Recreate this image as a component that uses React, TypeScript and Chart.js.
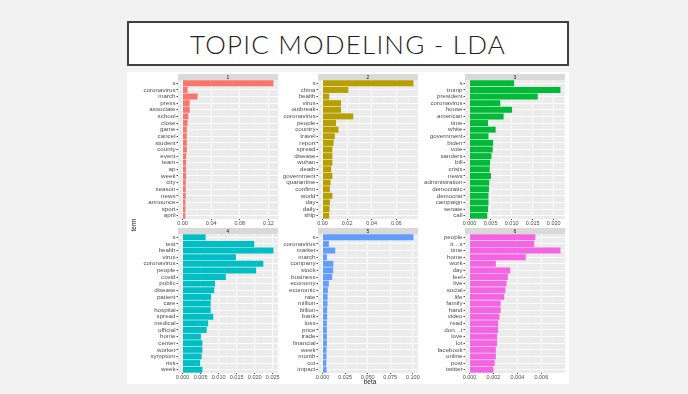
import React, { useEffect, useRef } from "react";
import { Chart, registerables } from "chart.js";

Chart.register(...registerables);

// ---------- data ----------
const topicLabels = ["1", "2", "3", "4", "5", "6"];
const topicColors = ["#F8766D", "#B79F00", "#00BA38", "#00BFC4", "#619CFF", "#F564E3"];

const topic1Terms = ["s", "coronavirus", "march", "press", "associate", "school", "close", "game", "cancel", "student", "county", "event", "team", "ap", "week", "city", "season", "news", "announce", "sport", "april"];
const topic1Beta = [0.127, 0.007, 0.021, 0.010, 0.010, 0.008, 0.007, 0.006, 0.006, 0.006, 0.006, 0.005, 0.005, 0.005, 0.005, 0.0045, 0.0045, 0.0045, 0.004, 0.004, 0.004];
const topic1Ticks = [0, 0.04, 0.08, 0.12];

const topic2Terms = ["s", "china", "health", "virus", "outbreak", "coronavirus", "people", "country", "travel", "report", "spread", "disease", "wuhan", "death", "government", "quarantine", "confirm", "world", "day", "daily", "ship"];
const topic2Beta = [0.074, 0.021, 0.0054, 0.015, 0.015, 0.025, 0.011, 0.013, 0.010, 0.009, 0.008, 0.008, 0.008, 0.007, 0.008, 0.0065, 0.006, 0.008, 0.006, 0.0057, 0.0054];
const topic2Ticks = [0, 0.02, 0.04, 0.06];

const topic3Terms = ["s", "trump", "president", "coronavirus", "house", "american", "time", "white", "government", "biden", "vote", "sanders", "bill", "crisis", "news", "administration", "democratic", "democrat", "campaign", "senate", "call"];
const topic3Beta = [0.0106, 0.0216, 0.0162, 0.0073, 0.0101, 0.0081, 0.0044, 0.0062, 0.0045, 0.0056, 0.0055, 0.0052, 0.0049, 0.0048, 0.0051, 0.0047, 0.0046, 0.0045, 0.0045, 0.0044, 0.0042];
const topic3Ticks = [0, 0.005, 0.01, 0.015, 0.02];

const topic4Terms = ["s", "test", "health", "virus", "coronavirus", "people", "covid", "public", "disease", "patient", "care", "hospital", "spread", "medical", "official", "home", "center", "worker", "symptom", "risk", "week"];
const topic4Beta = [0.0064, 0.0199, 0.0252, 0.0148, 0.0224, 0.0204, 0.012, 0.009, 0.0088, 0.0079, 0.0078, 0.0078, 0.0085, 0.0071, 0.0067, 0.0051, 0.0055, 0.0055, 0.0053, 0.0049, 0.0055];
const topic4Ticks = [0, 0.005, 0.01, 0.015, 0.02, 0.025];

const topic5Terms = ["s", "coronavirus", "market", "march", "company", "stock", "business", "economy", "economic", "rate", "million", "billion", "bank", "loss", "price", "trade", "financial", "week", "month", "cut", "impact"];
const topic5Beta = [0.1007, 0.007, 0.014, 0.0048, 0.012, 0.0118, 0.0107, 0.007, 0.0059, 0.0055, 0.0055, 0.0051, 0.0051, 0.0048, 0.0048, 0.0048, 0.0048, 0.0044, 0.0044, 0.0041, 0.0044];
const topic5Ticks = [0, 0.025, 0.05, 0.075, 0.1];

const topic6Terms = ["people", "it\u2026s", "time", "home", "work", "day", "feel", "live", "social", "life", "family", "hand", "video", "read", "don\u2026t", "love", "lot", "facebook", "online", "post", "twitter"];
const topic6Beta = [0.0055, 0.0054, 0.0076, 0.0047, 0.0022, 0.0034, 0.0032, 0.0031, 0.003, 0.0029, 0.0026, 0.0026, 0.0025, 0.0024, 0.0024, 0.0023, 0.0023, 0.0022, 0.0022, 0.0021, 0.002];
const topic6Ticks = [0, 0.002, 0.004, 0.006];

const titleText = "TOPIC MODELING - LDA";
const yAxisTitle = "term";
const xAxisTitle = "beta";

// ---------- layout ----------
const STRIP = 6;
const YAXIS_W = 46;
const XAXIS_H = 8;
const PLOT_W = 100;
const PLOT_H = 139;
const FONT = "'Liberation Sans', Arial, sans-serif";

const stripPlugin = {
  id: "ggStrip",
  beforeDraw(chart: any, _args: any, opts: any) {
    const { ctx, chartArea: a } = chart;
    ctx.save();
    ctx.fillStyle = "#EBEBEB";
    ctx.fillRect(a.left, a.top, a.right - a.left, a.bottom - a.top);
    const xs = chart.scales.x;
    const ticks: number[] = opts.ticks || [];
    if (ticks.length > 1) {
      const step = ticks[1] - ticks[0];
      ctx.strokeStyle = "#F7F7F7";
      ctx.lineWidth = 0.5;
      for (let i = -1; i < ticks.length; i++) {
        const v = (i < 0 ? ticks[0] - step : ticks[i]) + step / 2;
        if (v <= xs.min || v >= xs.max) continue;
        const px = xs.getPixelForValue(v);
        ctx.beginPath();
        ctx.moveTo(px, a.top);
        ctx.lineTo(px, a.bottom);
        ctx.stroke();
      }
    }
    ctx.fillStyle = "#D9D9D9";
    ctx.fillRect(a.left, a.top - STRIP, a.right - a.left, STRIP);
    ctx.fillStyle = "#1A1A1A";
    ctx.font = `5px ${FONT}`;
    ctx.textAlign = "center";
    ctx.textBaseline = "middle";
    ctx.fillText(opts.label || "", (a.left + a.right) / 2, a.top - STRIP / 2 + 0.3);
    ctx.restore();
  },
};

type PanelProps = {
  terms: string[];
  values: number[];
  ticks: number[];
  decimals: number;
  color: string;
  label: string;
  plotLeft: number;
  stripTop: number;
};

function Panel({ terms, values, ticks, decimals, color, label, plotLeft, stripTop }: PanelProps) {
  const ref = useRef<HTMLCanvasElement>(null);
  const width = YAXIS_W + PLOT_W + 3;
  const height = STRIP + PLOT_H + XAXIS_H;
  useEffect(() => {
    if (!ref.current) return;
    const maxV = Math.max(...values);
    const chart = new Chart(ref.current, {
      type: "bar",
      data: {
        labels: terms,
        datasets: [
          {
            data: values,
            backgroundColor: color,
            borderWidth: 0,
            barPercentage: 0.9,
            categoryPercentage: 1,
          },
        ],
      },
      options: {
        indexAxis: "y",
        animation: false,
        responsive: false,
        devicePixelRatio: 1,
        layout: { padding: { top: STRIP, right: 3, left: 0, bottom: 0 } },
        plugins: {
          legend: { display: false },
          tooltip: { enabled: false },
          ggStrip: { label, ticks },
        } as any,
        scales: {
          x: {
            type: "linear",
            min: -0.05 * maxV,
            max: 1.05 * maxV,
            afterBuildTicks: (s: any) => {
              s.ticks = ticks.map((v) => ({ value: v }));
            },
            afterFit: (s: any) => {
              s.height = XAXIS_H;
            },
            ticks: {
              autoSkip: false,
              maxRotation: 0,
              padding: 0,
              color: "#4D4D4D",
              font: { size: 5.5, family: FONT },
              callback: (v: any) => Number(v).toFixed(decimals),
            },
            grid: { color: "#FFFFFF", lineWidth: 0.9, tickColor: "#333333", tickLength: 1 },
            border: { display: false },
          },
          y: {
            afterFit: (s: any) => {
              s.width = YAXIS_W;
            },
            ticks: {
              autoSkip: false,
              padding: 1,
              color: "#4D4D4D",
              font: { size: 6.2, family: FONT },
            },
            grid: { color: "#FFFFFF", lineWidth: 0.9, offset: false, tickColor: "#333333", tickLength: 1.5 },
            border: { display: false },
          },
        },
      } as any,
      plugins: [stripPlugin],
    });
    return () => chart.destroy();
  }, []);
  return (
    <canvas
      ref={ref}
      width={width}
      height={height}
      style={{ position: "absolute", left: plotLeft - YAXIS_W, top: stripTop, width, height }}
    />
  );
}

const panels = [
  { terms: topic1Terms, values: topic1Beta, ticks: topic1Ticks, decimals: 2, plotLeft: 178, stripTop: 74 },
  { terms: topic2Terms, values: topic2Beta, ticks: topic2Ticks, decimals: 2, plotLeft: 318, stripTop: 74 },
  { terms: topic3Terms, values: topic3Beta, ticks: topic3Ticks, decimals: 3, plotLeft: 465, stripTop: 74 },
  { terms: topic4Terms, values: topic4Beta, ticks: topic4Ticks, decimals: 3, plotLeft: 178, stripTop: 228 },
  { terms: topic5Terms, values: topic5Beta, ticks: topic5Ticks, decimals: 3, plotLeft: 318, stripTop: 228 },
  { terms: topic6Terms, values: topic6Beta, ticks: topic6Ticks, decimals: 3, plotLeft: 465, stripTop: 228 },
];

export default function App() {
  return (
    <div
      style={{
        position: "fixed",
        left: 0,
        top: 0,
        width: 688,
        height: 394,
        background: "#F2F2F2",
        overflow: "hidden",
      }}
    >
      <div
        style={{
          position: "absolute",
          left: 127,
          top: 21,
          width: 442,
          height: 45,
          boxSizing: "border-box",
          border: "2px solid #404040",
          background: "#FFFFFF",
          display: "flex",
          alignItems: "center",
          justifyContent: "center",
          fontFamily: "Lato, 'Open Sans', sans-serif",
          fontWeight: 300,
          fontSize: 26,
          letterSpacing: 1.2,
          color: "#222222",
        }}
      >
        {titleText}
      </div>
      <div
        style={{
          position: "absolute",
          left: 127,
          top: 72,
          width: 442,
          height: 312,
          background: "#FFFFFF",
        }}
      />
      {panels.map((p, i) => (
        <Panel
          key={i}
          terms={p.terms}
          values={p.values}
          ticks={p.ticks}
          decimals={p.decimals}
          color={topicColors[i]}
          label={topicLabels[i]}
          plotLeft={p.plotLeft}
          stripTop={p.stripTop}
        />
      ))}
      <div
        style={{
          position: "absolute",
          left: 134 - 10,
          top: 225 - 4,
          width: 20,
          height: 8,
          lineHeight: "8px",
          textAlign: "center",
          transform: "rotate(-90deg)",
          fontFamily: FONT,
          fontSize: 6.5,
          color: "#1A1A1A",
        }}
      >
        {yAxisTitle}
      </div>
      <div
        style={{
          position: "absolute",
          left: 370 - 15,
          top: 381.5 - 4,
          width: 30,
          height: 8,
          lineHeight: "8px",
          textAlign: "center",
          fontFamily: FONT,
          fontSize: 6.5,
          color: "#1A1A1A",
        }}
      >
        {xAxisTitle}
      </div>
    </div>
  );
}
